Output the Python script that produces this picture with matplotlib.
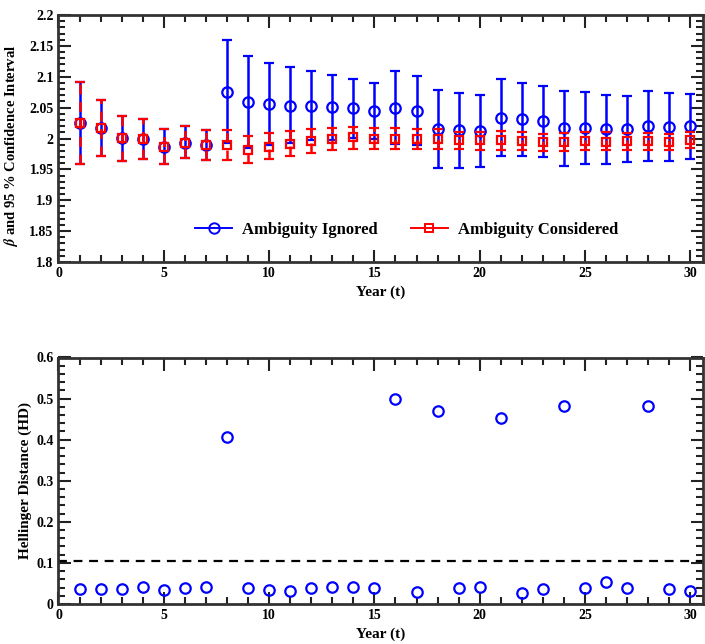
import matplotlib
matplotlib.use("Agg")
import matplotlib.pyplot as plt
import numpy as np
from matplotlib.lines import Line2D
from matplotlib.ticker import MultipleLocator, FuncFormatter

years = list(range(1, 31))

blue_mean = [2.025, 2.017, 2.001, 1.999, 1.987, 1.993, 1.989, 2.076, 2.059, 2.056,
             2.053, 2.053, 2.051, 2.049, 2.045, 2.050, 2.045, 2.015, 2.014, 2.012,
             2.034, 2.031, 2.028, 2.017, 2.017, 2.015, 2.015, 2.021, 2.018, 2.021]
blue_upper = [2.092, 2.063, 2.037, 2.032, 2.016, 2.020, 2.014, 2.159, 2.134, 2.122,
              2.115, 2.110, 2.103, 2.097, 2.090, 2.109, 2.101, 2.078, 2.074, 2.070,
              2.096, 2.090, 2.085, 2.077, 2.075, 2.071, 2.069, 2.077, 2.073, 2.072]
blue_lower = [1.959, 1.972, 1.964, 1.967, 1.959, 1.968, 1.965, 1.993, 1.985, 1.989,
              1.992, 1.997, 1.998, 2.001, 2.000, 1.991, 1.990, 1.952, 1.953, 1.954,
              1.971, 1.971, 1.970, 1.956, 1.959, 1.959, 1.962, 1.964, 1.964, 1.967]

red_mean = [2.025, 2.017, 2.001, 1.999, 1.987, 1.993, 1.989, 1.989, 1.982, 1.987,
            1.991, 1.996, 1.999, 2.002, 2.000, 2.000, 1.999, 1.999, 1.998, 1.997,
            1.997, 1.996, 1.994, 1.994, 1.996, 1.995, 1.996, 1.996, 1.995, 1.997]
red_upper = [2.092, 2.063, 2.037, 2.032, 2.016, 2.020, 2.014, 2.014, 2.004, 2.009,
             2.012, 2.016, 2.017, 2.018, 2.017, 2.017, 2.015, 2.015, 2.011, 2.011,
             2.012, 2.011, 2.008, 2.009, 2.010, 2.010, 2.009, 2.009, 2.007, 2.010]
red_lower = [1.959, 1.972, 1.964, 1.967, 1.959, 1.968, 1.965, 1.965, 1.960, 1.966,
             1.971, 1.977, 1.981, 1.983, 1.983, 1.983, 1.983, 1.983, 1.983, 1.981,
             1.982, 1.981, 1.980, 1.980, 1.982, 1.981, 1.981, 1.981, 1.982, 1.984]

hellinger = [0.036, 0.036, 0.036, 0.042, 0.035, 0.039, 0.041, 0.406, 0.040, 0.034,
             0.032, 0.040, 0.042, 0.041, 0.039, 0.498, 0.030, 0.469, 0.039, 0.042,
             0.453, 0.027, 0.036, 0.483, 0.039, 0.054, 0.039, 0.482, 0.036, 0.031]
hd_threshold = 0.105

legend_labels = ["Ambiguity Ignored", "Ambiguity Considered"]

plt.rcParams['font.family'] = ['Liberation Serif', 'DejaVu Serif']
plt.rcParams['font.weight'] = 'bold'
plt.rcParams['mathtext.fontset'] = 'stix'

W, H = 705, 644
fig = plt.figure(figsize=(W / 100, H / 100), dpi=100)

def fr(l, t, r, b):
    return [l / W, 1 - b / H, (r - l) / W, (b - t) / H]

ax1 = fig.add_axes(fr(58.5, 15, 703, 262))
ax2 = fig.add_axes(fr(58.5, 357.5, 703, 604))

def style(ax):
    for s in ax.spines.values():
        s.set_linewidth(2.0)
        s.set_color('#333333')
    ax.tick_params(which='both', direction='in', top=True, right=True, colors='#222222',
                   labelcolor='black', labelsize=10, width=1.5)
    ax.tick_params(which='major', length=9)
    ax.tick_params(which='minor', length=5)
    ax.xaxis.set_major_locator(MultipleLocator(5))
    ax.xaxis.set_minor_locator(MultipleLocator(1))
    ax.set_xlim(0, 30.6)
    for lab in ax.get_xticklabels() + ax.get_yticklabels():
        lab.set_fontweight('bold')

gfmt = FuncFormatter(lambda v, p: ('%g' % round(v, 4)))

# Top panel
y = np.array(blue_mean)
ax1.errorbar(years, blue_mean,
             yerr=[y - np.array(blue_lower), np.array(blue_upper) - y],
             fmt='o', color='blue', mfc='none', mec='blue', ms=7.5, mew=1.6,
             ecolor='blue', elinewidth=1.8, capsize=3.5, capthick=1.8, zorder=2)
yr = np.array(red_mean)
eb2 = ax1.errorbar(years, red_mean,
                   yerr=[yr - np.array(red_lower), np.array(red_upper) - yr],
                   fmt='s', color='red', mfc='none', mec='red', ms=6, mew=1.6,
                   ecolor='red', elinewidth=1.8, capsize=3.5, capthick=1.8, zorder=3)
eb2[2][0].set_linestyle((0, (4, 3)))

ax1.set_ylim(1.8, 2.2)
ax1.yaxis.set_major_locator(MultipleLocator(0.05))
ax1.yaxis.set_minor_locator(MultipleLocator(0.01))
ax1.yaxis.set_major_formatter(gfmt)
style(ax1)
ax1.set_xlabel('Year (t)', fontsize=11, fontweight='bold', labelpad=4)
ax1.set_ylabel(r'$\beta$ and 95 % Confidence Interval', fontsize=10.5, fontweight='bold')
ax1.yaxis.set_label_coords(-0.059, 0.47)

h1 = Line2D([], [], color='blue', marker='o', mfc='none', mec='blue', ms=7.5, mew=1.4, lw=1.4)
h2 = Line2D([], [], color='red', marker='s', mfc='none', mec='red', ms=6, mew=1.4, lw=1.4)
ax1.legend([h1, h2], legend_labels, loc='center', bbox_to_anchor=(0.54, 0.13), ncol=2,
           frameon=False, handlelength=2.2, columnspacing=2.0, handletextpad=0.6,
           prop={'family': 'Liberation Serif', 'weight': 'bold', 'size': 12})

# Bottom panel
ax2.plot(years, hellinger, 'o', mfc='none', mec='blue', ms=7.5, mew=1.6, zorder=3)
ax2.axhline(hd_threshold, color='black', ls=(0, (4, 3)), lw=1.6)
ax2.set_ylim(0, 0.6)
ax2.yaxis.set_major_locator(MultipleLocator(0.1))
ax2.yaxis.set_minor_locator(MultipleLocator(0.02))
ax2.yaxis.set_major_formatter(gfmt)
style(ax2)
ax2.set_xlabel('Year (t)', fontsize=11, fontweight='bold', labelpad=4)
ax2.set_ylabel('Hellinger Distance (HD)', fontsize=11, fontweight='bold')
ax2.yaxis.set_label_coords(-0.041, 0.5)

fig.savefig('out.png', dpi=100)
